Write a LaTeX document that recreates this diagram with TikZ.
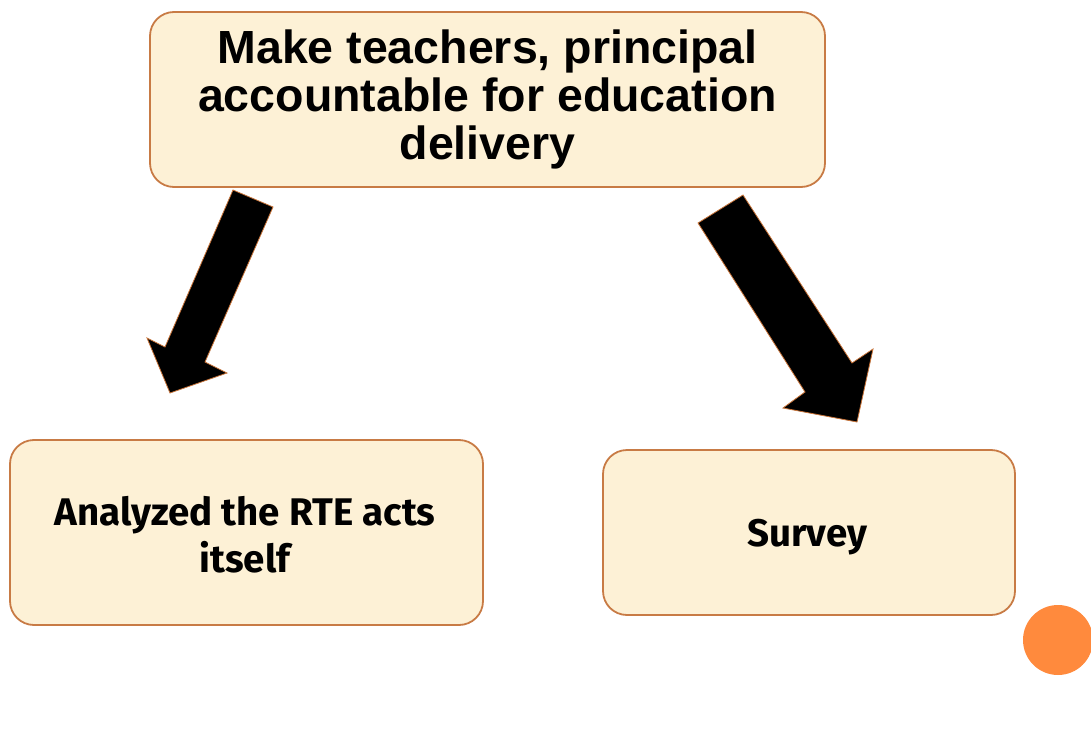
\documentclass[tikz,border=0pt]{standalone}
\usepackage{fontspec}
\setmainfont{Liberation Sans}
\newfontfamily\lowfont{Fira Sans}
\definecolor{boxfill}{HTML}{FDF1D6}
\definecolor{boxedge}{HTML}{C87B45}
\definecolor{dotorange}{HTML}{FF8A3D}
\definecolor{arrowedge}{HTML}{C8743A}
\tikzset{
  cbox/.style={draw=boxedge, line width=1.8pt, fill=boxfill, rounded corners=24pt, align=center, inner sep=0pt},
  blockarrow/.style={fill=black, draw=arrowedge, line width=0.8pt, line join=miter},
  toptext/.style={font=\fontsize{46.5}{48}\selectfont\bfseries},
  lowtext/.style={font=\fontsize{38.5}{47}\selectfont\lowfont\bfseries}
}
\begin{document}
\begin{tikzpicture}[x=1pt,y=-1pt]
\useasboundingbox (0,0) rectangle (1091,751);
\node[cbox, toptext, minimum width=675pt, minimum height=175pt] (top) at (487.5,99.5)
  {Make teachers, principal\\accountable for education\\delivery};
\node[cbox, minimum width=473pt, minimum height=185pt] (left) at (246.5,532.5) {};
\node[lowtext, align=center] (lefttext) at (245,535) {Analyzed the RTE acts\\itself};
\node[cbox, minimum width=412pt, minimum height=165pt] (right) at (809,532.5) {};
\node[lowtext] (righttext) at (807,537) {Survey};
\node[circle, fill=dotorange, minimum size=70pt, inner sep=0pt] (dot) at (1058,640) {};
% left block arrow
\draw[blockarrow] (233,190) -- (273,207) -- (205,362) -- (227,373) -- (170,393) -- (147,338) -- (165,347) -- cycle;
% right block arrow
\draw[blockarrow] (698,223) -- (743,195) -- (852,363) -- (873,349) -- (857,422) -- (783,408) -- (805,392) -- cycle;
\end{tikzpicture}
\end{document}
